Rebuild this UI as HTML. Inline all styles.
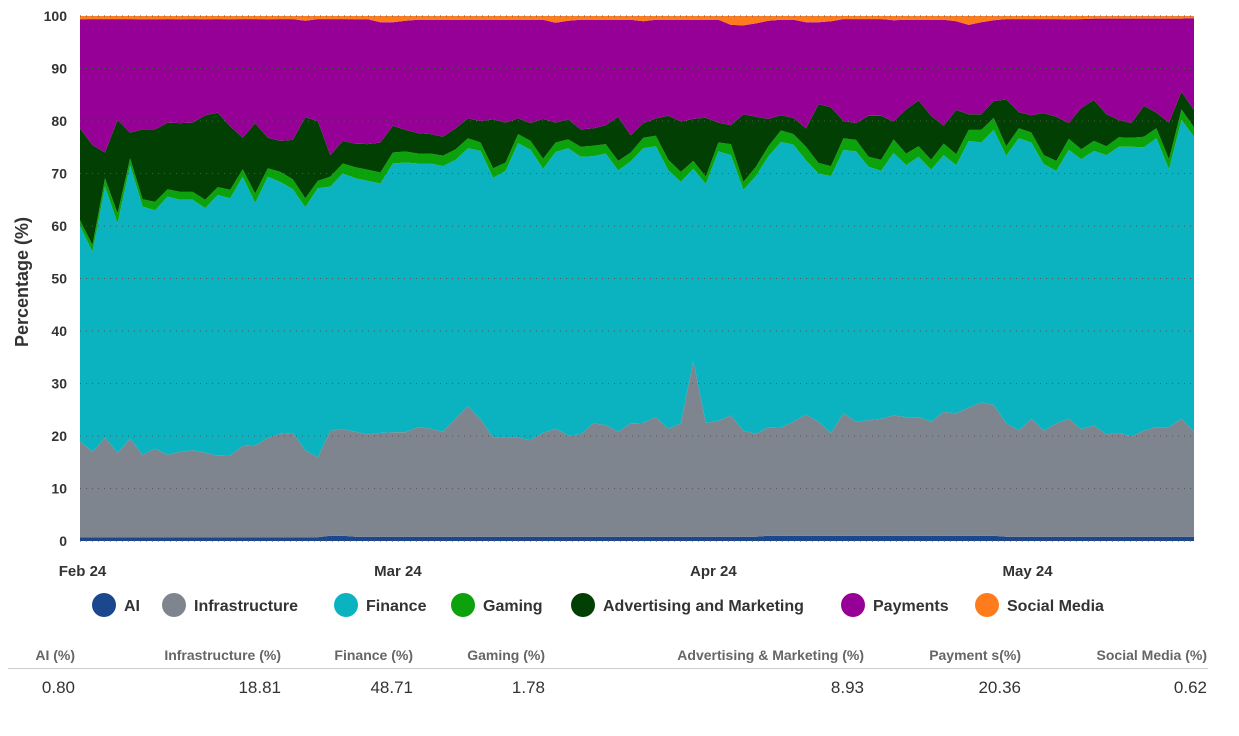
<!DOCTYPE html>
<html><head><meta charset="utf-8"><style>
body{margin:0;background:#fff;font-family:"Liberation Sans",sans-serif;}
svg text{font-family:"Liberation Sans",sans-serif;}
</style></head><body>
<svg id="chart" width="1239" height="731" xmlns="http://www.w3.org/2000/svg">
<g id="grid"></g>
<g id="areas"></g>
<g id="yaxis"></g>
<text transform="translate(28,282) rotate(-90)" text-anchor="middle" font-size="18" font-weight="bold" fill="#333">Percentage (%)</text>
<g id="xaxis"></g>
<g id="legend"></g>
<g id="table"></g>
</svg>
<script>
const ai=[0.7,0.7,0.7,0.7,0.7,0.7,0.7,0.7,0.7,0.7,0.7,0.7,0.7,0.7,0.7,0.7,0.7,0.7,0.7,0.7,1.0,1.0,0.8,0.8,0.8,0.8,0.8,0.8,0.8,0.8,0.8,0.8,0.8,0.8,0.8,0.8,0.8,0.8,0.8,0.8,0.8,0.8,0.8,0.8,0.8,0.8,0.8,0.8,0.8,0.8,0.8,0.8,0.8,0.8,0.8,1.0,1.0,1.0,1.0,1.0,1.0,1.0,1.0,1.0,1.0,1.0,1.0,1.0,1.0,1.0,1.0,1.0,1.0,1.0,0.8,0.8,0.8,0.8,0.8,0.8,0.8,0.8,0.8,0.8,0.8,0.8,0.8,0.8,0.8,0.8];
const infrastructure=[18.3,16.3,19.0,16.1,18.8,15.7,16.9,15.7,16.3,16.6,16.1,15.5,15.6,17.4,17.5,18.9,19.7,19.9,16.6,15.2,20.0,20.3,20.0,19.5,19.8,19.9,19.9,20.9,20.6,20.0,22.5,24.9,22.4,18.9,18.9,18.9,18.4,19.8,20.6,19.3,19.5,21.6,21.3,20.0,21.6,21.7,22.8,20.6,21.6,33.5,21.7,22.1,23.1,20.2,19.6,20.7,20.6,21.7,23.1,21.7,19.6,23.3,21.7,22.0,22.3,22.9,22.6,22.6,21.7,23.6,23.3,24.4,25.4,24.9,21.6,20.3,22.5,20.2,21.6,22.5,20.5,21.2,19.5,19.8,19.1,20.2,20.9,20.9,22.5,20.0];
const finance=[41.0,38.1,47.8,43.7,52.1,47.3,45.4,49.2,48.0,47.7,46.6,49.7,49.0,51.3,46.2,49.8,48.0,46.4,46.3,51.3,46.5,48.7,48.3,48.3,47.5,51.2,51.4,50.2,50.5,50.6,49.3,49.1,51.1,49.5,50.8,56.1,55.3,50.3,52.7,54.7,52.9,50.9,51.7,49.8,49.9,52.3,51.6,49.2,46.0,36.6,45.5,51.3,49.6,45.9,49.1,51.6,54.4,52.8,48.4,47.3,48.9,50.2,51.5,48.3,47.2,50.0,48.0,49.6,48.0,48.9,47.3,50.8,49.5,52.4,51.0,55.6,52.6,50.8,48.1,51.2,51.4,52.3,53.2,54.5,55.2,54.0,55.0,49.1,56.9,56.2];
const gaming=[1.1,1.3,1.6,1.9,1.3,1.4,1.6,1.4,1.5,1.5,1.6,1.5,1.6,1.4,1.8,1.6,1.9,1.9,1.7,1.4,1.9,1.9,2.1,2.1,2.1,2.1,2.1,1.9,1.9,2.0,2.0,1.9,1.6,1.8,1.6,1.7,1.7,1.9,1.8,1.7,1.9,2.0,1.8,1.8,1.7,2.0,2.0,2.0,1.9,1.5,1.4,1.7,2.1,1.5,1.8,1.9,2.2,2.0,2.6,2.0,1.9,2.2,2.2,1.9,2.1,2.6,2.2,2.0,1.9,2.2,2.1,2.1,2.4,2.3,1.8,1.9,1.9,1.7,1.9,2.1,1.9,1.9,1.7,1.8,1.7,2.0,1.9,1.9,2.0,1.8];
const advertising=[17.5,19.0,4.9,17.8,4.9,13.3,13.8,12.7,13.1,13.2,16.1,14.2,12.1,6.0,13.4,5.8,5.9,7.5,15.4,11.4,4.1,4.3,4.5,4.9,5.7,5.1,4.1,3.9,3.7,3.6,4.0,3.8,4.1,9.3,7.6,3.0,3.4,7.6,3.8,3.8,3.3,3.3,3.6,8.4,3.3,2.8,3.3,8.4,9.6,8.0,11.2,3.8,3.6,12.9,9.5,5.2,2.9,3.1,3.5,11.2,11.2,3.3,3.2,7.8,8.4,3.4,8.4,8.7,8.4,3.4,8.4,3.0,3.0,3.2,8.9,3.1,3.3,8.0,8.4,3.0,7.9,7.8,6.1,3.3,2.8,5.9,3.0,7.0,3.4,3.3];
const payments=[20.8,24.0,25.4,19.2,21.6,21.0,21.0,19.7,19.8,19.7,18.3,17.8,20.4,22.6,19.8,22.6,23.2,23.0,18.4,19.4,25.9,23.2,23.7,23.8,22.9,19.7,20.8,21.6,21.8,22.3,20.7,18.8,19.3,19.0,19.6,18.8,19.7,18.9,19.0,18.8,20.9,20.7,20.1,18.5,22.0,19.4,18.8,18.3,19.4,18.9,18.7,19.6,19.1,16.9,17.8,18.7,18.2,18.7,20.2,15.6,16.4,19.4,19.8,18.4,18.4,19.3,17.1,15.4,18.3,20.2,16.9,17.0,17.5,15.4,15.3,17.7,18.3,17.9,18.6,19.8,16.9,15.5,18.2,19.3,19.9,16.6,17.9,19.8,13.9,17.5];
const social=[0.6,0.6,0.6,0.6,0.6,0.6,0.6,0.6,0.6,0.6,0.6,0.6,0.6,0.6,0.6,0.6,0.6,0.6,0.9,0.6,0.6,0.6,0.6,0.6,1.2,1.2,0.9,0.7,0.7,0.7,0.7,0.7,0.7,0.7,0.7,0.7,0.7,0.7,1.3,0.9,0.7,0.7,0.7,0.7,0.7,1.0,0.7,0.7,0.7,0.7,0.7,0.7,1.7,1.8,1.4,0.9,0.7,0.7,1.2,1.2,1.0,0.6,0.6,0.6,0.6,0.8,0.7,0.7,0.7,0.7,1.0,1.7,1.2,0.8,0.6,0.6,0.6,0.6,0.6,0.6,0.6,0.5,0.5,0.5,0.5,0.5,0.5,0.5,0.5,0.4];
const seriesNames=["AI","Infrastructure","Finance","Gaming","Advertising and Marketing","Payments","Social Media"];
const yTicks=[0,10,20,30,40,50,60,70,80,90,100];
const xTickLabels=["Feb 24","Mar 24","Apr 24","May 24"];
const xTickIndex=[0.2,25.4,50.6,75.7];
const tableHeaders=["AI (%)","Infrastructure (%)","Finance (%)","Gaming (%)","Advertising & Marketing (%)","Payment s(%)","Social Media (%)"];
const tableValues=["0.80","18.81","48.71","1.78","8.93","20.36","0.62"];

const colors=["#1b478e","#7e858e","#0bb2c0","#0ca20c","#023f02","#970096","#ff7b1c"];
const NS="http://www.w3.org/2000/svg";
const X0=80,X1=1194,Y0=541,Y1=16;
const series=[ai,infrastructure,finance,gaming,advertising,payments,social];
const n=ai.length;
const xs=i=>X0+(X1-X0)*i/(n-1);
const ys=v=>Y0-(Y0-Y1)*v/100;
function mk(tag,attrs,parent){const e=document.createElementNS(NS,tag);for(const k in attrs)e.setAttribute(k,attrs[k]);parent.appendChild(e);return e;}
const grid=document.getElementById('grid'),areas=document.getElementById('areas'),yaxis=document.getElementById('yaxis'),xaxis=document.getElementById('xaxis'),legend=document.getElementById('legend'),table=document.getElementById('table');
// cumulative stacks
const cum=[new Array(n).fill(0)];
series.forEach((s,k)=>{cum.push(cum[k].map((v,i)=>v+s[i]));});
series.forEach((s,k)=>{
  let d='';
  for(let i=0;i<n;i++)d+=(i?'L':'M')+xs(i).toFixed(1)+','+ys(Math.min(cum[k+1][i],100)).toFixed(1);
  for(let i=n-1;i>=0;i--)d+='L'+xs(i).toFixed(1)+','+ys(cum[k][i]).toFixed(1);
  const p=mk('path',{d:d+'Z',fill:colors[k]},areas);
  
  
});
yTicks.forEach(t=>{
  const l=mk('line',{x1:X0,x2:X1,y1:ys(t),y2:ys(t),stroke:'#555','stroke-width':1,'stroke-dasharray':'1,5'},grid);
  
  
  const tx=mk('text',{x:67,y:ys(t)+5,'text-anchor':'end','font-size':14,'font-weight':'bold',fill:'#333'},yaxis);
  tx.textContent=t;
  
  
});
// bring grid over areas
document.getElementById('chart').insertBefore(areas,grid);
xTickLabels.forEach((lab,j)=>{
  const tx=mk('text',{x:xs(xTickIndex[j]),y:576,'text-anchor':'middle','font-size':15,'font-weight':'bold',fill:'#333'},xaxis);
  tx.textContent=lab;
  
  
});
const legX=[104,174,346,463,583,853,987];
seriesNames.forEach((nm,k)=>{
  const g=mk('g',{},legend);
  
  
  mk('circle',{cx:legX[k],cy:605,r:12,fill:colors[k]},g);
  const t=mk('text',{x:legX[k]+20,y:611,'font-size':16,'font-weight':'bold',fill:'#333'},g);
  t.textContent=nm;
});
const colRight=[75,281,413,545,864,1021,1207];
mk('line',{x1:8,x2:1208,y1:668.5,y2:668.5,stroke:'#ccc','stroke-width':1},table);
tableHeaders.forEach((h,k)=>{
  const t=mk('text',{x:colRight[k],y:660,'text-anchor':'end','font-size':14,'font-weight':'bold',fill:'#666'},table);
  t.textContent=h;
  
  
  const v=mk('text',{x:colRight[k],y:693,'text-anchor':'end','font-size':17,fill:'#333'},table);
  v.textContent=tableValues[k];
  
  
});
</script>
</body></html>
